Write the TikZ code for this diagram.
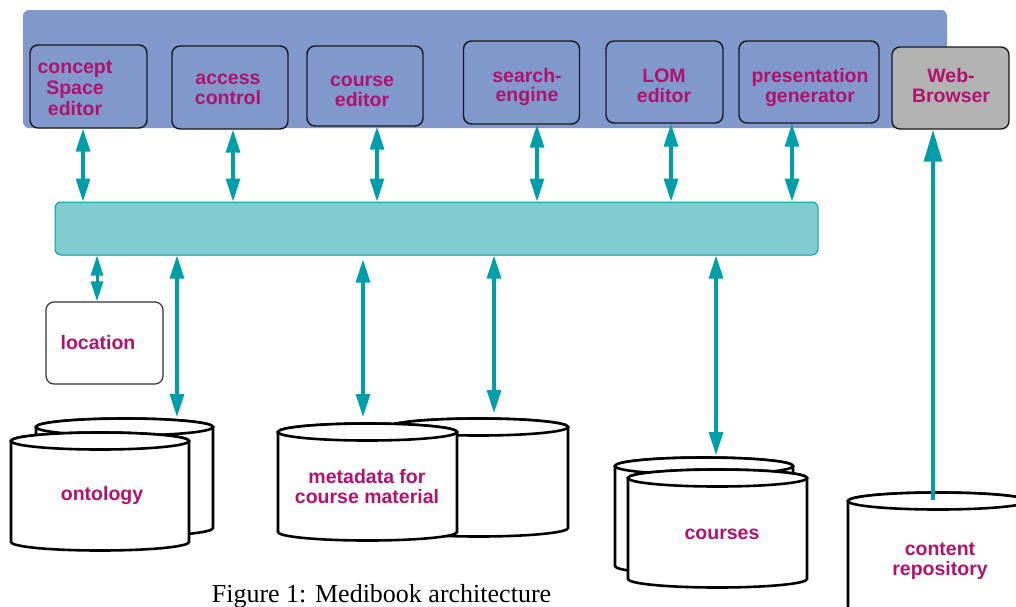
\documentclass[tikz,border=0pt]{standalone}
\usepackage{fontspec}
\setmainfont{Liberation Serif}
\newfontfamily\sansb{Liberation Sans}
\usetikzlibrary{arrows.meta}
\definecolor{panelc}{RGB}{128,152,204}
\definecolor{barc}{RGB}{129,205,210}
\definecolor{tealc}{RGB}{0,158,168}
\definecolor{magc}{RGB}{176,18,110}
\definecolor{grayc}{RGB}{178,178,178}
\newcommand\dbcyl[4]{%
  \filldraw[cylst] ({#1-#4},#2) -- ({#1-#4},#3)
    arc[start angle=180,end angle=0,x radius=#4,y radius=8.5]
    -- ({#1+#4},#2)
    arc[start angle=0,end angle=-180,x radius=#4,y radius=8.5] -- cycle;
  \draw[cylst] (#1,#2) ellipse[x radius=#4,y radius=8.5];}
\tikzset{
  comp/.style={draw=black!90, line width=1.4pt, rounded corners=8pt, fill=panelc, inner sep=0pt},
  lbl/.style={text=magc, font=\sansb\bfseries\fontsize{19.5}{20}\selectfont, align=center, inner sep=0pt, anchor=base},
  cylst/.style={draw=black, fill=white, line width=2.6pt},
  dbl/.style={draw=tealc, line width=3.2pt, {Triangle[width=14pt,length=23pt]}-{Triangle[width=14pt,length=23pt]}},
  dbls/.style={draw=tealc, line width=3pt, {Triangle[width=12pt,length=20pt]}-{Triangle[width=12pt,length=20pt]}},
  sgl/.style={draw=tealc, line width=3.2pt, -{Triangle[width=18pt,length=32pt]}}
}
\begin{document}
\begin{tikzpicture}[x=1pt,y=-1pt]
\useasboundingbox (0,0) rectangle (1016,606);
% top panel
\node[fill=panelc, rounded corners=6pt, minimum width=924pt, minimum height=118pt, inner sep=0pt] (panel) at (485,69) {};
% components
\node[comp, minimum width=117pt, minimum height=83pt] (cse) at (88.5,86.5) {};
\node[comp, minimum width=116pt, minimum height=83pt] (acc) at (230,87.5) {};
\node[comp, minimum width=116pt, minimum height=80pt] (ced) at (365,86) {};
\node[comp, minimum width=116pt, minimum height=83pt] (seg) at (521.5,82.5) {};
\node[comp, minimum width=117pt, minimum height=82pt] (lom) at (664.5,82) {};
\node[comp, minimum width=140pt, minimum height=82pt] (pgen) at (809,82) {};
\node[comp, fill=grayc, minimum width=117pt, minimum height=82pt] (web) at (950.5,88) {};
\node[lbl, font=\sansb\bfseries\fontsize{19.5}{21}\selectfont] (tcse) at (75,115) {concept\\Space\\editor};
\node[lbl] (tacc) at (228,104) {access\\control};
\node[lbl] (tced) at (362,106) {course\\editor};
\node[lbl, font=\sansb\bfseries\fontsize{19.5}{19}\selectfont] (tseg) at (527,101) {search-\\engine};
\node[lbl] (tlom) at (664,102) {LOM\\editor};
\node[lbl] (tpgen) at (810,102) {presentation\\generator};
\node[lbl] (tweb) at (951,102) {Web-\\Browser};
% bar
\node[fill=barc, draw=tealc, line width=1pt, rounded corners=6pt, minimum width=763pt, minimum height=53pt, inner sep=0pt] (bar) at (436.5,228.5) {};
% location
\node[draw=black!80, line width=1.2pt, rounded corners=8pt, fill=white, minimum width=117pt, minimum height=82pt, inner sep=0pt] (loc) at (104.5,343) {};
\node[lbl] (tloc) at (98,349) {location};
% cylinders
\dbcyl{124.5}{427}{528}{88.5}
\dbcyl{100}{441}{542}{89}
\node[lbl] (tonto) at (102,500) {ontology};
\dbcyl{478.5}{427}{528}{89.5}
\dbcyl{367.5}{432}{532}{89.5}
\node[lbl] (tmeta) at (367,503) {metadata for\\course material};
\dbcyl{704}{466}{566}{89}
\dbcyl{717.5}{478}{579}{89.5}
\node[lbl] (tcrs) at (722,539) {courses};
\dbcyl{938}{501}{620}{90}
\node[lbl] (trepo) at (940,575) {content\\repository};
% arrow end coordinates
\coordinate (a1) at ([xshift=-5.5pt]cse.south);
\coordinate (a2) at ([xshift=3pt]acc.south);
\coordinate (a3) at ([xshift=12pt]ced.south);
\coordinate (a4) at ([xshift=15.5pt]seg.south);
\coordinate (a5) at ([xshift=6.5pt]lom.south);
\coordinate (a6) at ([xshift=-17pt]pgen.south);
\coordinate (locA) at ([xshift=-7.5pt]loc.north);
\coordinate (ontoTop) at (177,417);
\coordinate (metaTop) at (363,417);
\coordinate (metaBackTop) at (494,413);
\coordinate (crsTop) at (716,455);
\coordinate (repoTop) at (933,500);
% connectors
\foreach \c in {a1,a2,a3,a4,a5,a6}
  \draw[dbl] (\c) -- (bar.north -| \c);
\draw[dbls] (bar.south -| locA) -- (locA);
\draw[dbl] (bar.south -| ontoTop) -- (ontoTop);
\draw[dbl, shorten <=4pt] (bar.south -| metaTop) -- (metaTop);
\draw[dbl] (bar.south -| metaBackTop) -- (metaBackTop);
\draw[dbl] (bar.south -| crsTop) -- (crsTop);
\draw[sgl] (repoTop) -- (web.south -| repoTop);
% caption
\node[anchor=base, inner sep=0pt, font=\fontsize{26}{30}\selectfont] (cap) at (381.5,602) {Figure 1: Medibook architecture};
\end{tikzpicture}
\end{document}
